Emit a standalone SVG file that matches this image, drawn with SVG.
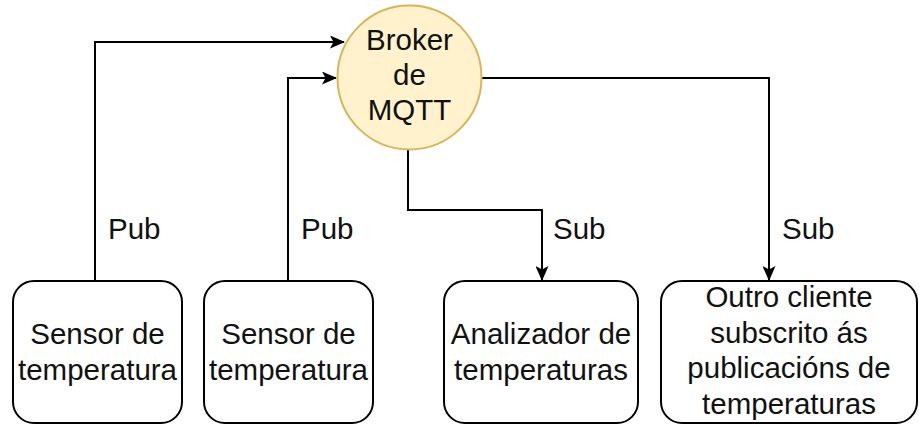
<svg xmlns="http://www.w3.org/2000/svg" width="919" height="426" viewBox="0 0 919 426">
  <style>
    .box { fill: #ffffff; stroke: #000000; stroke-width: 2; }
    .broker { fill: #fff2cc; stroke: #d6b656; stroke-width: 2; }
    .edge { fill: none; stroke: #000000; stroke-width: 2; }
    .lbl { font-family: "Liberation Sans", Arial, sans-serif; font-size: 29.5px; fill: #111111; }
    .mid { text-anchor: middle; }
  </style>
  <defs>
    <marker id="arrow" viewBox="0 0 15 13" refX="14" refY="6.5" markerWidth="15" markerHeight="13" markerUnits="userSpaceOnUse" orient="auto">
      <path d="M0,0 L15,6.5 L0,13 L3.5,6.5 Z" fill="#000000"/>
    </marker>
  </defs>

  <!-- connectors -->
  <g id="connectors">
    <path class="edge" d="M95,281 V42 H344" marker-end="url(#arrow)"/>
    <path class="edge" d="M288,281 V78 H336" marker-end="url(#arrow)"/>
    <path class="edge" d="M408,150 V210 H542 V280" marker-end="url(#arrow)"/>
    <path class="edge" d="M482,78 H769 V280" marker-end="url(#arrow)"/>
    <text class="lbl" x="108" y="239">Pub</text>
    <text class="lbl" x="301" y="239">Pub</text>
    <text class="lbl" x="553" y="239">Sub</text>
    <text class="lbl" x="782" y="239">Sub</text>
  </g>

  <!-- MQTT broker -->
  <g id="broker">
    <circle class="broker" cx="409.5" cy="77.5" r="72"/>
    <text class="lbl mid" x="409.5" y="50">Broker</text>
    <text class="lbl mid" x="409.5" y="85">de</text>
    <text class="lbl mid" x="409.5" y="120">MQTT</text>
  </g>

  <!-- publishers -->
  <g id="sensor1">
    <rect class="box" x="13" y="281" width="169" height="142" rx="21"/>
    <text class="lbl mid" x="97.5" y="344">Sensor de</text>
    <text class="lbl mid" x="97.5" y="380">temperatura</text>
  </g>
  <g id="sensor2">
    <rect class="box" x="204" y="281" width="169" height="142" rx="21"/>
    <text class="lbl mid" x="288.5" y="344">Sensor de</text>
    <text class="lbl mid" x="288.5" y="380">temperatura</text>
  </g>

  <!-- subscribers -->
  <g id="analyzer">
    <rect class="box" x="444" y="281" width="194" height="142" rx="21"/>
    <text class="lbl mid" x="541" y="344">Analizador de</text>
    <text class="lbl mid" x="541" y="380">temperaturas</text>
  </g>
  <g id="other-client">
    <rect class="box" x="661" y="281" width="256" height="142" rx="21"/>
    <text class="lbl mid" x="789" y="307">Outro cliente</text>
    <text class="lbl mid" x="789" y="343">subscrito ás</text>
    <text class="lbl mid" x="789" y="378">publicacións de</text>
    <text class="lbl mid" x="789" y="414">temperaturas</text>
  </g>
</svg>
